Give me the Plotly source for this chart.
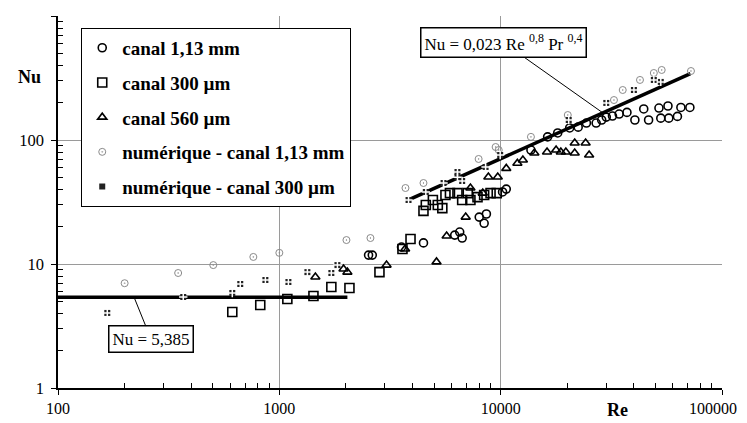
import plotly.graph_objects as go

# canal 1,13 mm (mesures)
re_c113 = [2530, 2630, 3565, 4480, 6200, 6530, 6700, 8000, 8620, 8420, 10200, 10600,
           13700, 16300, 18100, 20500, 22400, 24400, 27000, 28600, 30000, 32000, 34300,
           37200, 40400, 44300, 46600, 51900, 52900, 57000, 57500, 62900, 65200, 71600]
nu_c113 = [11.8, 11.8, 13.7, 14.8, 17.1, 18.1, 16.2, 23.9, 25.3, 21.3, 38.1, 40.2,
           83, 106, 114, 125, 127, 137, 137, 145, 153, 156, 162,
           167, 145, 178, 145, 181, 150, 188, 150, 155, 183, 183]

# canal 300 um (mesures)
re_c300 = [613, 820, 1087, 1426, 1718, 2074, 2834, 3600, 3915, 4480, 4590, 4940, 5200,
           5450, 5630, 5900, 6380, 6700, 7100, 7300, 7860, 8420, 9000, 9600]
nu_c300 = [4.1, 4.67, 5.22, 5.52, 6.53, 6.41, 8.6, 13.2, 15.9, 26.8, 29.9, 32.8, 29.9,
           28.2, 36, 37.3, 37.3, 32.8, 37.3, 32.8, 34.6, 36, 37.3, 37.3]

# canal 560 um (mesures)
re_c560 = [1455, 1950, 2030, 3050, 3700, 5130, 5700, 6950, 7300, 8300, 8800, 9700, 10600,
           11900, 12600, 14200, 16200, 17800, 18700, 19700, 21600, 21600, 24200, 25100]
nu_c560 = [7.85, 9.12, 8.6, 9.8, 13.2, 10.4, 16.8, 23.9, 41, 37.3, 50.3, 50.3, 59,
           65, 69, 78.6, 80, 83, 80, 80, 94.5, 78.6, 94.5, 75.7]

# numerique - canal 1,13 mm
re_n113 = [200, 349, 503, 763, 1000, 2010, 2580, 3715, 4480, 7950, 9490, 9800, 13700,
           20100, 32500, 35600, 42600, 49200, 53400, 72400]
nu_n113 = [7.0, 8.46, 9.8, 11.4, 12.3, 15.6, 16.2, 41, 45, 70.3, 87.8, 83, 106,
           159, 210, 253, 305, 347, 367, 360]

# numerique - canal 300 um
re_n300 = [167, 368, 613, 666, 865, 1099, 1339, 1718, 1830, 3835, 4590, 5520, 6380, 6380,
           6700, 8550, 9950, 20300, 30000, 40000, 49200, 52900]
nu_n300 = [4.03, 5.42, 5.84, 6.9, 7.43, 7.16, 8.6, 8.46, 9.8, 32.8, 38.1, 45, 55.2, 50,
           46.7, 60.6, 75.7, 145, 199, 253, 305, 294]

# correlations
re_lam = [100, 2030]
nu_lam = [5.385, 5.385]
re_db = [3900, 72000]
nu_db = [33.3, 343]

x_tickvals = [100, 1000, 10000, 100000]
x_ticktext = ['100', '1000', '10000', '']   # last label drawn as annotation (edge)
x_last_label = '100000'
y_tickvals = [1, 10, 100, 1000]
y_ticktext = ['1', '10', '100', '1000']

FONT = 'Liberation Serif'

fig = go.Figure()

fig.add_scatter(x=re_lam, y=nu_lam, mode='lines', line=dict(color='black', width=3.5),
                showlegend=False, hoverinfo='skip')
fig.add_scatter(x=re_db, y=nu_db, mode='lines', line=dict(color='black', width=3.5),
                showlegend=False, hoverinfo='skip')

fig.add_scatter(x=re_c113, y=nu_c113, mode='markers', name='canal 1,13 mm', legendgroup='a',
                marker=dict(symbol='circle-open', size=8, color='black', line=dict(width=1.6)))
fig.add_scatter(x=re_c300, y=nu_c300, mode='markers', name='canal 300 µm', legendgroup='b',
                marker=dict(symbol='square-open', size=9, color='black', line=dict(width=1.6)))
fig.add_scatter(x=re_c560, y=nu_c560, mode='markers', name='canal 560 µm', legendgroup='c',
                marker=dict(symbol='triangle-up-open', size=8, color='black', line=dict(width=1.6)))
fig.add_scatter(x=re_n113, y=nu_n113, mode='markers', name='numérique - canal 1,13 mm', legendgroup='d',
                marker=dict(symbol='circle-open-dot', size=7, color='#8a8a8a', line=dict(width=1)))
fig.add_scatter(x=re_n300, y=nu_n300, mode='markers', name='numérique - canal 300 µm', legendgroup='e',
                marker=dict(symbol='square', size=6, color='#222', line=dict(width=0)))
# white cross on top of the squares -> four dots
fig.add_scatter(x=re_n300, y=nu_n300, mode='markers', legendgroup='e', showlegend=False,
                marker=dict(symbol='cross-thin', size=6, line=dict(color='white', width=1.5)),
                hoverinfo='skip')

axis_common = dict(type='log', showline=True, linecolor='black', linewidth=1.5,
                   showgrid=True, gridcolor='#9a9a9a', gridwidth=1,
                   ticks='outside', ticklen=5, tickcolor='black',
                   zeroline=False, automargin=False)

minor_x = [m * d for d in [100, 1000, 10000] for m in range(2, 10)]
minor_y = [m * d for d in [1, 10, 100] for m in range(2, 10)]

fig.update_xaxes(range=[2, 5], tickmode='array', tickvals=x_tickvals, ticktext=x_ticktext,
                 tickfont=dict(family=FONT, size=16, color='black'),
                 minor=dict(tickmode='array', tickvals=minor_x, ticks='inside', ticklen=5,
                            tickcolor='black', showgrid=False),
                 **axis_common)
fig.update_yaxes(range=[0, 3], tickmode='array', tickvals=y_tickvals, ticktext=y_ticktext,
                 tickfont=dict(family=FONT, size=16.5, color='black'),
                 minor=dict(tickmode='array', tickvals=minor_y, ticks='inside', ticklen=5,
                            tickcolor='black', showgrid=False),
                 ticklabelstandoff=4,
                 **axis_common)

fig.add_annotation(x=1.025, y=-0.055, xref='paper', yref='paper', text=x_last_label,
                   xanchor='right', yanchor='middle', showarrow=False,
                   font=dict(family=FONT, size=16, color='black'))

fig.add_annotation(x=4.4616, y=2.219, xref='x', yref='y', ax=-99, ay=-70,
                   text='Nu = 0,023 Re <sup>0,8</sup> Pr <sup>0,4</sup>',
                   showarrow=True, arrowhead=0, arrowwidth=1, arrowcolor='black',
                   bordercolor='black', borderwidth=1.5, borderpad=3, bgcolor='white',
                   font=dict(family=FONT, size=17, color='black'))
fig.add_annotation(x=2.344, y=0.731, xref='x', yref='y', ax=17, ay=42,
                   text='Nu = 5,385',
                   showarrow=True, arrowhead=0, arrowwidth=1, arrowcolor='black',
                   bordercolor='black', borderwidth=1.5, borderpad=3, bgcolor='white',
                   font=dict(family=FONT, size=17, color='black'))

fig.add_annotation(x=-0.043, y=0.836, xref='paper', yref='paper', text='<b>Nu</b>',
                   xanchor='center', yanchor='middle',
                   showarrow=False, font=dict(family=FONT, size=18, color='black'))
fig.add_annotation(x=0.843, y=-0.059, xref='paper', yref='paper', text='<b>Re</b>',
                   xanchor='center', yanchor='middle',
                   showarrow=False, font=dict(family=FONT, size=18, color='black'))

# the page body adds 8 px around the figure; plot area kept at 58..722 x 16..388
fig.update_layout(
    width=747, height=415,
    margin=dict(l=50, r=33, t=8, b=35),
    paper_bgcolor='white', plot_bgcolor='white',
    font=dict(family=FONT, color='black'),
    legend=dict(x=0.035, y=0.968, xanchor='left', yanchor='top',
                bgcolor='white', bordercolor='black', borderwidth=1,
                font=dict(family=FONT, size=19, color='black', weight='bold'),
                traceorder='grouped', tracegroupgap=7, itemwidth=30),
)

fig.write_html("out.html")
